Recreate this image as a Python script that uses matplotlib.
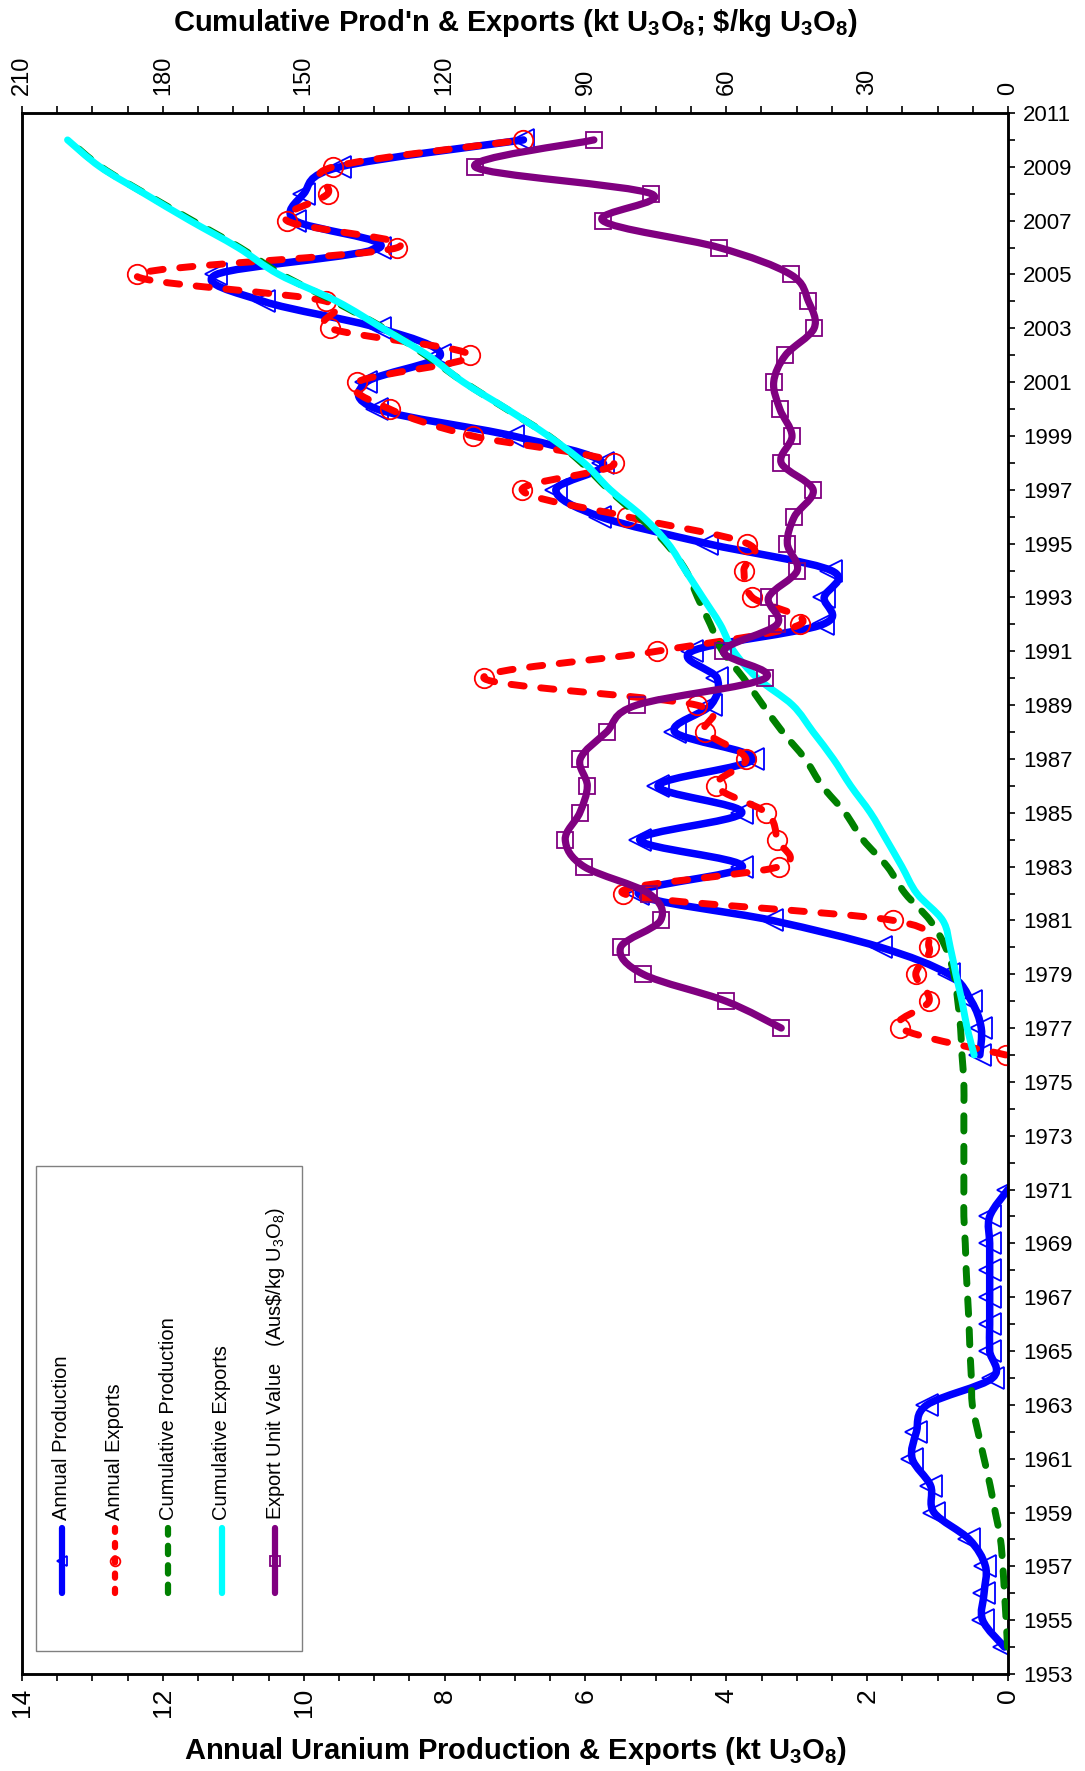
import numpy as np
import matplotlib
matplotlib.use('Agg')
import matplotlib.pyplot as plt
from matplotlib.path import Path
from matplotlib.patches import PathPatch, Rectangle

plt.rcParams['font.family'] = ['Liberation Sans', 'DejaVu Sans']
plt.rcParams['mathtext.default'] = 'regular'
plt.rcParams['lines.scale_dashes'] = False

nan = np.nan

# ---- data ----
prod_years = list(range(1954, 2011))
annual_production = [0.05, 0.36, 0.34, 0.32, 0.55, 1.05, 1.10, 1.36, 1.30, 1.15,   # 1954-63
                     0.22, 0.26, 0.26, 0.26, 0.26, 0.26, 0.26, 0.0,                # 1964-71
                     nan, nan, nan, nan,                                           # 1972-75
                     0.40, 0.38, 0.52, 0.84, 1.81, 3.35, 5.25, 3.77, 5.23, 3.78,   # 1976-85
                     4.97, 3.62, 4.73, 4.22, 4.13, 4.49, 2.63, 2.61, 2.51, 4.27,   # 1986-95
                     5.79, 6.42, 5.75, 7.03, 8.96, 9.11, 8.06, 8.92, 10.57, 11.24, # 1996-2005
                     8.92, 10.12, 10.00, 9.48, 6.88]                               # 2006-10
cumulative_production = [0.1, 0.4, 0.75, 1.1, 1.6, 2.7, 3.8, 5.1, 6.4, 7.6,
                         7.8, 8.1, 8.3, 8.6, 8.9, 9.1, 9.4, 9.4,
                         9.4, 9.4, 9.4, 9.4,
                         9.8, 10.1, 10.7, 11.5, 13.3, 16.6, 21.9, 25.7, 30.9, 34.7,
                         39.6, 43.2, 48.0, 52.2, 56.3, 60.8, 63.4, 66.1, 68.6, 72.8,
                         78.6, 85.0, 90.8, 97.8, 106.8, 115.9, 124.0, 132.9, 143.5, 154.7,
                         163.6, 173.7, 183.7, 193.2, 200.1]

exp_years = list(range(1976, 2011))
annual_exports = [0.03, 1.53, 1.12, 1.31, 1.12, 1.63, 5.46, 3.25, 3.28, 3.43,
                  4.14, 3.72, 4.30, 4.42, 7.44, 4.99, 2.95, 3.63, 3.75, 3.70,
                  5.41, 6.90, 5.60, 7.60, 8.78, 9.24, 7.64, 9.63, 9.68, 12.37,
                  8.67, 10.24, 9.66, 9.58, 6.88]
cumulative_exports = [7.2, 8.7, 9.8, 11.1, 12.3, 13.9, 19.4, 22.6, 25.9, 29.3,
                      33.5, 37.2, 41.5, 45.9, 53.4, 58.4, 61.3, 65.0, 68.7, 72.4,
                      77.8, 84.7, 90.3, 97.9, 106.7, 116.0, 123.6, 133.2, 142.9, 155.3,
                      164.0, 174.2, 183.9, 193.4, 200.3]

value_years = list(range(1977, 2011))
export_unit_value = [48.3, 60.1, 77.7, 82.5, 74.0, 76.5, 90.3, 94.3, 91.2,
                     89.6, 91.1, 85.5, 79.1, 51.7, 60.6, 49.2, 51.0, 44.9, 47.0,
                     45.5, 41.5, 48.3, 46.0, 48.6, 49.9, 47.4, 41.3, 42.5, 46.3,
                     61.5, 86.3, 76.0, 113.5, 88.2]

bottom_ticks = [0, 2, 4, 6, 8, 10, 12, 14]
top_ticks = [0, 30, 60, 90, 120, 150, 180, 210]
year_ticks = list(range(1953, 2012, 2))

legend_labels = ['Annual Production', 'Annual Exports', 'Cumulative Production',
                 'Cumulative Exports', r'Export Unit Value   (Aus\$/kg U$_3$O$_8$)']


def smooth_path(xs, ys):
    # smoothed line through the points (Catmull-Rom as cubic Bezier)
    p = np.column_stack([xs, ys])
    n = len(p)
    verts = [p[0]]
    codes = [Path.MOVETO]
    for i in range(n - 1):
        p0 = p[max(i - 1, 0)]
        p1 = p[i]
        p2 = p[i + 1]
        p3 = p[min(i + 2, n - 1)]
        verts += [p1 + (p2 - p0) / 6, p2 - (p3 - p1) / 6, p2]
        codes += [Path.CURVE4] * 3
    return Path(verts, codes)


def draw_series(axis, years, vals, color, lw, ls, marker, ms, z):
    years = np.asarray(years, float)
    vals = np.asarray(vals, float)
    ok = np.isfinite(vals)
    # split into runs of valid values
    idx = np.where(ok)[0]
    runs = np.split(idx, np.where(np.diff(idx) != 1)[0] + 1)
    for r in runs:
        if len(r) > 1:
            axis.add_patch(PathPatch(smooth_path(vals[r], years[r]), fill=False,
                                     edgecolor=color, lw=lw, linestyle=ls,
                                     capstyle='round', joinstyle='round', zorder=z))
    if marker:
        axis.plot(vals[ok], years[ok], linestyle='none', marker=marker, ms=ms,
                  mfc='none', mec=color, mew=1.3, zorder=z + 0.1)


fig = plt.figure(figsize=(10.85, 17.71), dpi=100)
ax = fig.add_axes([22 / 1085, 1 - 1674 / 1771, 986 / 1085, 1561 / 1771])
ax.set_xlim(14, 0)
ax.set_ylim(1953, 2011)
ax.set_xticks(bottom_ticks)
ax.set_xticks(np.arange(0, 14.01, 0.5), minor=True)
ax.set_xticklabels([str(t) for t in bottom_ticks])
ax.yaxis.tick_right()
ax.set_yticks(year_ticks)
ax.set_yticks(range(1953, 2012), minor=True)
ax.tick_params(axis='x', which='both', direction='out', length=5, width=1.2,
               labelsize=19, labelrotation=90, pad=5)
ax.tick_params(axis='y', which='both', direction='out', length=5, width=1.2,
               labelsize=16, pad=6, left=False, right=True)

ax2 = ax.twiny()
ax2.set_xlim(210, 0)
ax2.set_xticks(top_ticks)
ax2.set_xticks(np.arange(0, 210.01, 7.5), minor=True)
ax2.set_xticklabels([str(t) for t in top_ticks])
ax2.tick_params(axis='x', which='both', direction='out', length=5, width=1.2,
                labelsize=17, labelrotation=90, pad=8)
for a in (ax, ax2):
    for s in a.spines.values():
        s.set_linewidth(1.8)

draw_series(ax, prod_years, annual_production, '#0000FF', 5.4, '-', '<', 16, 2)
draw_series(ax, exp_years, annual_exports, '#FF0000', 5.0, (0, (9.5, 12)), 'o', 14, 3)
draw_series(ax2, prod_years, cumulative_production, '#008000', 5.0, (0, (11, 11)), None, 0, 4)
draw_series(ax2, exp_years, cumulative_exports, '#00FFFF', 5.0, '-', None, 0, 5)
draw_series(ax2, value_years, export_unit_value, '#800080', 5.2, '-', 's', 12, 6)

# legend drawn by hand (rotated entries)
ax2.add_patch(Rectangle((0.0139, 0.0149), 0.2698, 0.3105, transform=ax2.transAxes,
                        facecolor='white', edgecolor='#808080', lw=1.0, zorder=10))
leg_x = [0.0403, 0.0943, 0.1484, 0.2025, 0.2566]
leg_style = [('#0000FF', '-', '<'), ('#FF0000', (0, (3, 8)), 'o'),
             ('#008000', (0, (6, 8)), None), ('#00FFFF', '-', None),
             ('#800080', '-', 's')]
for xl, lab, (c, ls, m) in zip(leg_x, legend_labels, leg_style):
    ax2.plot([xl, xl], [0.0519, 0.0935], transform=ax2.transAxes, color=c, lw=4.5,
             linestyle=ls, solid_capstyle='round', dash_capstyle='round', zorder=11)
    if m:
        ax2.plot([xl], [0.0727], transform=ax2.transAxes, marker=m, ms=7, mfc='none',
                 mec=c, mew=1.3, zorder=12)
    ax2.text(xl, 0.0987, lab, transform=ax2.transAxes, rotation=90, ha='center',
             va='bottom', fontsize=14.5, zorder=12)

fig.text(0.4747, 1 - 23 / 1771, r"Cumulative Prod'n & Exports (kt U$_3$O$_8$; \$/kg U$_3$O$_8$)",
         ha='center', va='center', fontsize=21, fontweight='bold')
fig.text(0.4747, 1 - 1751 / 1771, r"Annual Uranium Production & Exports (kt U$_3$O$_8$)",
         ha='center', va='center', fontsize=21, fontweight='bold')

fig.savefig('out.png', dpi=100)
